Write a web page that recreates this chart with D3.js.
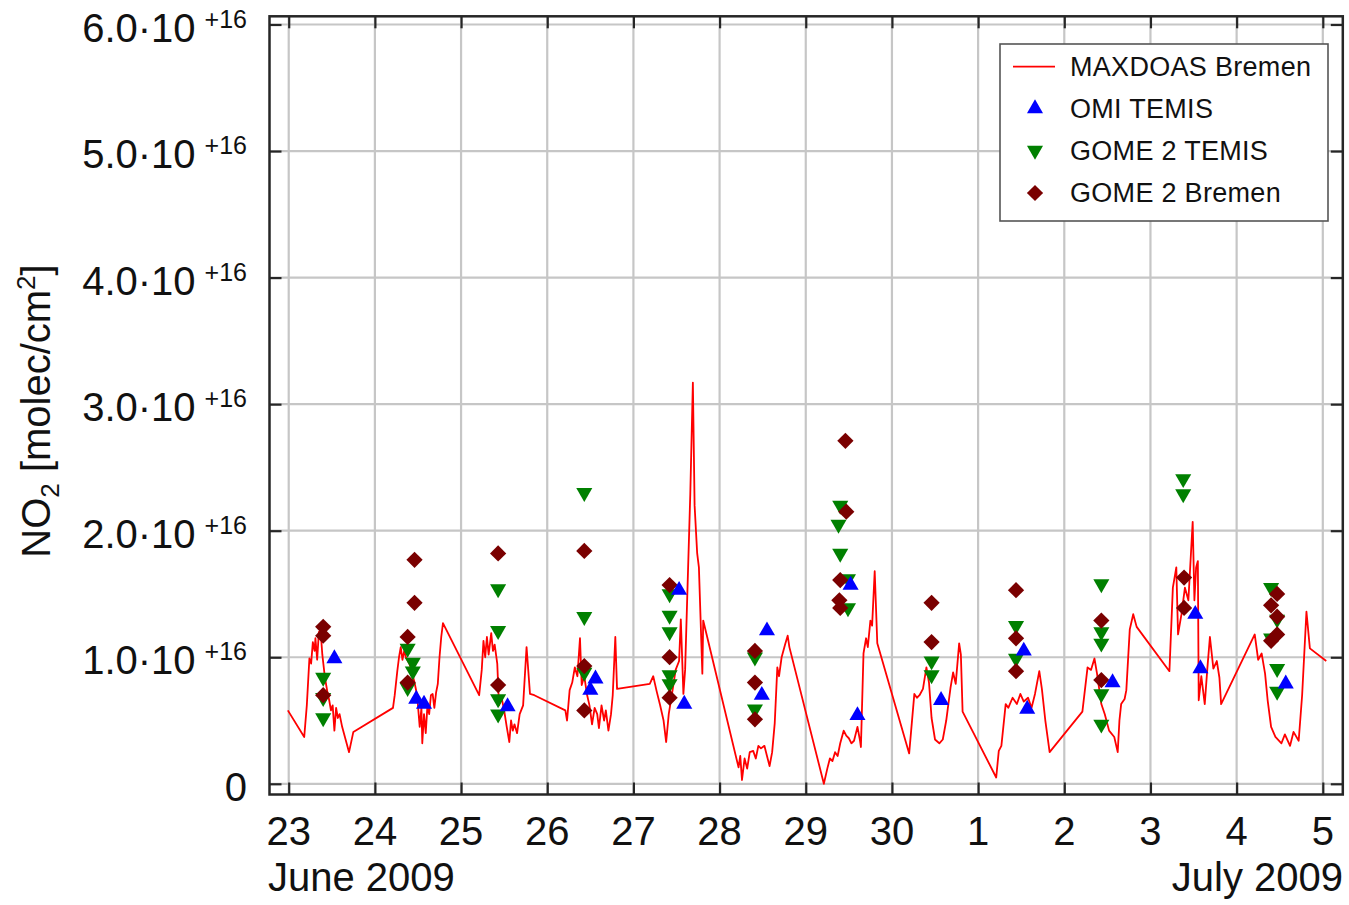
<!DOCTYPE html>
<html>
<head>
<meta charset="utf-8">
<script src="https://cdn.jsdelivr.net/npm/d3@7"></script>
<style>
  html, body { margin: 0; padding: 0; background: #fff; }
  svg { display: block; font-family: "Liberation Sans", Arial, Helvetica, sans-serif; }
</style>
</head>
<body>
<svg id="chart" width="1349" height="905"></svg>
<script>
// Tropospheric NO2 columns over Bremen, 23 June - 5 July 2009.
// Time is given as day count from 31 May 2009 (31 = 1 July), values in 1e16 molec/cm².

const maxdoasDay = [
  22.99, 23.18, 23.21, 23.24, 23.26, 23.28, 23.30, 23.31, 23.33, 23.35, 23.37, 23.39, 23.42, 23.45, 23.47, 23.49,
  23.51, 23.53, 23.55, 23.57, 23.59, 23.62, 23.66, 23.70, 23.75,
  24.21, 24.23, 24.26, 24.28, 24.30, 24.32, 24.34, 24.36, 24.40, 24.43, 24.46, 24.49, 24.52, 24.54, 24.55, 24.57,
  24.59, 24.61, 24.63, 24.65, 24.67, 24.69, 24.71, 24.73, 24.75, 24.77, 24.79,
  25.21, 25.24, 25.26, 25.28, 25.30, 25.32, 25.35, 25.37, 25.39, 25.42, 25.44, 25.47, 25.50, 25.53, 25.56, 25.58,
  25.60, 25.62, 25.65, 25.68, 25.72, 25.76, 25.80, 25.85,
  26.21, 26.23, 26.26, 26.29, 26.32, 26.35, 26.38, 26.40, 26.43, 26.46, 26.49, 26.52, 26.55, 26.58, 26.60, 26.63,
  26.66, 26.68, 26.71, 26.74, 26.76, 26.79, 26.81,
  27.19, 27.23, 27.27, 27.31, 27.35, 27.38, 27.41, 27.45, 27.49, 27.53, 27.55, 27.58, 27.60, 27.63, 27.66, 27.69,
  27.71, 27.74, 27.76, 27.80, 27.81,
  28.22, 28.24, 28.26, 28.29, 28.32, 28.35, 28.39, 28.42, 28.45, 28.48, 28.52, 28.55, 28.58, 28.61, 28.64, 28.67,
  28.69, 28.72, 28.76, 28.79, 28.81,
  29.21, 29.25, 29.28, 29.31, 29.34, 29.37, 29.40, 29.44, 29.47, 29.50, 29.53, 29.56, 29.60, 29.63, 29.64, 29.67,
  29.70, 29.72, 29.75, 29.77, 29.80, 29.83,
  30.20, 30.26, 30.29, 30.32, 30.36, 30.40, 30.43, 30.46, 30.50, 30.55, 30.59, 30.63, 30.68, 30.71, 30.74, 30.78,
  30.80, 30.82,
  31.21, 31.24, 31.27, 31.32, 31.35, 31.40, 31.45, 31.49, 31.53, 31.58, 31.62, 31.66, 31.71, 31.74, 31.78, 31.83,
  32.21, 32.27, 32.31, 32.35, 32.38, 32.43, 32.47, 32.52, 32.58, 32.62, 32.64, 32.66, 32.70, 32.72, 32.76, 32.80,
  32.84,
  33.22, 33.26, 33.30, 33.32, 33.36, 33.40, 33.44, 33.49, 33.51, 33.53, 33.55, 33.56, 33.59, 33.63, 33.66, 33.69,
  33.73, 33.77, 33.80, 33.82,
  34.21, 34.25, 34.29, 34.33, 34.36, 34.40, 34.45, 34.52, 34.56, 34.62, 34.66, 34.72, 34.76, 34.81, 34.85, 35.04
];
const maxdoasNO2 = [
  0.58, 0.37, 0.62, 0.99, 0.95, 1.12, 1.05, 1.15, 0.98, 1.20, 1.21, 1.02, 0.84, 0.72, 0.66, 0.58,
  0.62, 0.42, 0.60, 0.52, 0.55, 0.45, 0.35, 0.25, 0.41,
  0.60, 0.70, 0.89, 1.00, 1.08, 0.98, 1.05, 1.00, 0.95, 0.88, 0.80, 0.70, 0.45, 0.60, 0.32, 0.55,
  0.40, 0.62, 0.55, 0.70, 0.71, 0.60, 0.72, 0.79, 1.00, 1.16, 1.27,
  0.70, 0.90, 1.13, 1.00, 1.16, 1.02, 1.19, 1.05, 1.10, 0.95, 0.62, 0.68, 0.58, 0.45, 0.33, 0.50,
  0.42, 0.47, 0.40, 0.55, 0.62, 1.08, 0.71, 0.70,
  0.58, 0.50, 0.74, 0.80, 0.92, 0.85, 1.15, 0.78, 0.85, 0.71, 0.62, 0.47, 0.60, 0.55, 0.44, 0.62,
  0.50, 0.58, 0.42, 0.55, 0.70, 1.16, 0.75,
  0.79, 0.85, 0.73, 0.62, 0.50, 0.33, 0.55, 0.72, 0.90, 0.97, 1.30, 0.71, 0.90, 1.60, 2.29, 3.17,
  2.20, 1.82, 1.71, 0.87, 1.29,
  0.13, 0.22, 0.03, 0.20, 0.12, 0.25, 0.26, 0.20, 0.30, 0.28, 0.30, 0.22, 0.14, 0.25, 0.48, 0.92,
  0.85, 1.00, 1.10, 1.17, 1.08,
  0.00, 0.12, 0.20, 0.18, 0.25, 0.22, 0.32, 0.42, 0.38, 0.36, 0.32, 0.34, 0.45, 0.34, 0.29, 1.03,
  1.15, 1.08, 1.29, 1.25, 1.68, 1.11,
  0.24, 0.71, 0.68, 0.70, 0.75, 0.92, 0.80, 0.52, 0.35, 0.32, 0.35, 0.50, 0.76, 0.88, 0.79, 1.11,
  1.02, 0.57,
  0.05, 0.26, 0.30, 0.63, 0.60, 0.68, 0.63, 0.71, 0.65, 0.68, 0.60, 0.71, 0.89, 0.75, 0.50, 0.25,
  0.57, 0.92, 0.90, 0.99, 0.87, 0.63, 0.55, 0.42, 0.37, 0.25, 0.50, 0.63, 0.67, 0.74, 1.22, 1.34,
  1.24,
  0.89, 1.55, 1.71, 1.18, 1.34, 1.55, 1.45, 2.07, 1.45, 1.71, 1.76, 0.66, 0.85, 0.63, 0.91, 1.16,
  0.91, 0.97, 0.84, 0.63,
  1.18, 0.98, 1.03, 0.87, 0.66, 0.45, 0.37, 0.32, 0.39, 0.30, 0.41, 0.34, 0.70, 1.36, 1.07, 0.97
];

const omiDay = [23.53, 24.48, 24.57, 25.54, 26.50, 26.56, 27.53, 27.59, 28.49, 28.55, 29.52, 29.60, 30.57, 31.53, 31.57, 32.56, 33.52, 33.58, 34.57];
const omiNO2 = [0.99, 0.67, 0.63, 0.61, 0.74, 0.83, 1.53, 0.63, 0.70, 1.21, 1.57, 0.54, 0.66, 1.05, 0.59, 0.80, 1.34, 0.91, 0.79];

const gomeTemisDay = [
  23.40, 23.40, 23.40, 24.38, 24.44, 24.44, 24.38, 25.43, 25.43, 25.43, 25.43, 26.43, 26.43, 26.43,
  27.42, 27.42, 27.42, 27.42, 27.42, 28.41, 28.41, 29.40, 29.38, 29.40, 29.49, 29.49, 30.46, 30.46,
  31.44, 31.44, 32.43, 32.43, 32.43, 32.43, 32.43, 33.38, 33.38, 34.40, 34.40, 34.47, 34.47, 34.47
];
const gomeTemisNO2 = [
  0.84, 0.68, 0.52, 1.07, 0.96, 0.89, 0.76, 1.54, 1.21, 0.67, 0.55, 2.30, 1.32, 0.88,
  1.50, 1.33, 1.20, 0.86, 0.79, 1.00, 0.59, 2.20, 2.05, 1.82, 1.62, 1.39, 0.97, 0.86,
  1.25, 0.99, 1.58, 1.20, 1.11, 0.71, 0.47, 2.41, 2.29, 1.55, 1.15, 1.30, 0.91, 0.73
];

const gomeBremenDay = [
  23.40, 23.40, 23.40, 24.38, 24.38, 24.46, 24.46, 25.43, 25.43, 26.43, 26.43, 26.43, 27.42, 27.42, 27.42,
  28.41, 28.41, 28.41, 29.46, 29.47, 29.40, 29.39, 29.40, 30.46, 30.46, 31.44, 31.44, 31.44, 32.43, 32.43,
  33.39, 33.39, 34.47, 34.40, 34.47, 34.47, 34.40
];
const gomeBremenNO2 = [
  1.24, 1.17, 0.70, 1.16, 0.80, 1.43, 1.77, 1.82, 0.78, 1.84, 0.93, 0.58, 1.57, 1.00, 0.68,
  1.05, 0.80, 0.51, 2.71, 2.15, 1.61, 1.45, 1.39, 1.43, 1.12, 1.53, 1.15, 0.89, 1.29, 0.82,
  1.63, 1.39, 1.50, 1.41, 1.32, 1.18, 1.13
];

const xTickDays = [23, 24, 25, 26, 27, 28, 29, 30, 31, 32, 33, 34, 35];
const yTickValues = [0, 1, 2, 3, 4, 5, 6];
const yTickLabels = ["0", "1.0·10", "2.0·10", "3.0·10", "4.0·10", "5.0·10", "6.0·10"];
const yExponent = "+16";
const monthLabels = ["June 2009", "July 2009"];
const seriesNames = ["MAXDOAS Bremen", "OMI TEMIS", "GOME 2 TEMIS", "GOME 2 Bremen"];

// ---- layout ----
const frame = { left: 269.5, right: 1342.8, top: 16.3, bottom: 794.5 };
const baseDate = Date.UTC(2009, 4, 31);
const toDate = d => new Date(baseDate + d * 864e5);

const x = d3.scaleUtc()
  .domain([toDate(22.777), toDate(35.232)])
  .range([frame.left, frame.right]);
const y = d3.scaleLinear()
  .domain([-0.0846, 6.0648])
  .range([frame.bottom, frame.top]);

const svg = d3.select("#chart");
const gridColor = "#c6c6c6";
const axisColor = "#262626";

// grid
const grid = svg.append("g");
grid.selectAll("line.gx").data(xTickDays).join("line")
  .attr("x1", d => x(toDate(d))).attr("x2", d => x(toDate(d)))
  .attr("y1", frame.top).attr("y2", frame.bottom)
  .attr("stroke", gridColor).attr("stroke-width", 2.2);
grid.selectAll("line.gy").data(yTickValues).join("line")
  .attr("x1", frame.left).attr("x2", frame.right)
  .attr("y1", d => y(d)).attr("y2", d => y(d))
  .attr("stroke", gridColor).attr("stroke-width", 2.2);

// axes (inward ticks on all four sides)
const tickLen = 12;
function styleAxis(g) {
  g.select(".domain").remove();
  g.selectAll(".tick line").attr("stroke", axisColor).attr("stroke-width", 2.2);
  g.selectAll(".tick text").remove();
}
svg.append("g").attr("transform", `translate(0,${frame.bottom})`)
  .call(d3.axisBottom(x).tickValues(xTickDays.map(toDate)).tickSize(-tickLen)).call(styleAxis);
svg.append("g").attr("transform", `translate(0,${frame.top})`)
  .call(d3.axisTop(x).tickValues(xTickDays.map(toDate)).tickSize(-tickLen)).call(styleAxis);
svg.append("g").attr("transform", `translate(${frame.left},0)`)
  .call(d3.axisLeft(y).tickValues(yTickValues).tickSize(-tickLen)).call(styleAxis);
svg.append("g").attr("transform", `translate(${frame.right},0)`)
  .call(d3.axisRight(y).tickValues(yTickValues).tickSize(-tickLen)).call(styleAxis);

// clip for data
svg.append("clipPath").attr("id", "plotClip").append("rect")
  .attr("x", frame.left).attr("y", frame.top)
  .attr("width", frame.right - frame.left).attr("height", frame.bottom - frame.top);
const plot = svg.append("g").attr("clip-path", "url(#plotClip)");

// MAXDOAS line
const lineData = maxdoasDay.map((d, i) => [d, maxdoasNO2[i]]);
plot.append("path")
  .datum(lineData)
  .attr("fill", "none")
  .attr("stroke", "#ff0000")
  .attr("stroke-width", 1.8)
  .attr("stroke-linejoin", "round")
  .attr("d", d3.line().x(d => x(toDate(d[0]))).y(d => y(d[1])));

// marker shapes
const triSize = 112;
const upTri = d3.symbol().type(d3.symbolTriangle).size(triSize)();
const diamond = d3.symbol().type(d3.symbolSquare).size(132)();
const colors = { omi: "#0000ff", gomeTemis: "#008000", gomeBremen: "#7a0000" };

function drawMarkers(days, vals, path, rot, color) {
  plot.append("g").selectAll("path").data(days.map((d, i) => [d, vals[i]])).join("path")
    .attr("d", path)
    .attr("fill", color)
    .attr("transform", d => `translate(${x(toDate(d[0]))},${y(d[1])}) rotate(${rot})`);
}
drawMarkers(gomeTemisDay, gomeTemisNO2, upTri, 180, colors.gomeTemis);
drawMarkers(gomeBremenDay, gomeBremenNO2, diamond, 45, colors.gomeBremen);
drawMarkers(omiDay, omiNO2, upTri, 0, colors.omi);

// frame
svg.append("rect")
  .attr("x", frame.left).attr("y", frame.top)
  .attr("width", frame.right - frame.left).attr("height", frame.bottom - frame.top)
  .attr("fill", "none").attr("stroke", axisColor).attr("stroke-width", 2.5);

// y tick labels with exponent
const yLabels = svg.append("g").attr("font-size", 40).attr("fill", "#111");
yTickValues.forEach((v, i) => {
  const t = yLabels.append("text")
    .attr("x", 247).attr("y", y(v) + 17)
    .attr("text-anchor", "end");
  t.append("tspan").text(yTickLabels[i]);
  if (v !== 0) {
    t.append("tspan").attr("dx", 9).attr("dy", -14).attr("font-size", 25).text(yExponent);
  }
});

// x tick labels
svg.append("g").attr("font-size", 40).attr("fill", "#111")
  .selectAll("text").data(xTickDays).join("text")
  .attr("x", d => x(toDate(d))).attr("y", 845)
  .attr("text-anchor", "middle")
  .text(d => d3.utcFormat("%-d")(toDate(d)));

svg.append("text").attr("x", 268).attr("y", 891).attr("font-size", 40).attr("fill", "#111")
  .text(monthLabels[0]);
svg.append("text").attr("x", 1343).attr("y", 891).attr("font-size", 40).attr("fill", "#111")
  .attr("text-anchor", "end").text(monthLabels[1]);

// y axis title
const yTitle = svg.append("text")
  .attr("transform", "translate(50,411) rotate(-90)")
  .attr("text-anchor", "middle").attr("font-size", 40).attr("fill", "#111");
yTitle.append("tspan").text("NO");
yTitle.append("tspan").attr("font-size", 26).attr("dy", 9).text("2");
yTitle.append("tspan").attr("dy", -9).text(" [molec/cm");
yTitle.append("tspan").attr("font-size", 26).attr("dy", -15).text("2");
yTitle.append("tspan").attr("dy", 15).text("]");

// legend
const legend = svg.append("g");
legend.append("rect")
  .attr("x", 1000).attr("y", 44).attr("width", 328).attr("height", 177)
  .attr("fill", "#fff").attr("stroke", "#555").attr("stroke-width", 1.6);
const rowY = [66.7, 108.5, 150.5, 193];
legend.append("line")
  .attr("x1", 1013).attr("x2", 1055).attr("y1", rowY[0]).attr("y2", rowY[0])
  .attr("stroke", "#ff0000").attr("stroke-width", 1.7);
legend.append("path").attr("d", upTri).attr("fill", colors.omi)
  .attr("transform", `translate(1035,${rowY[1]})`);
legend.append("path").attr("d", upTri).attr("fill", colors.gomeTemis)
  .attr("transform", `translate(1035,${rowY[2]}) rotate(180)`);
legend.append("path").attr("d", diamond).attr("fill", colors.gomeBremen)
  .attr("transform", `translate(1035,${rowY[3]}) rotate(45)`);
legend.selectAll("text").data(seriesNames).join("text")
  .attr("x", 1070).attr("y", (d, i) => rowY[i] + 9)
  .attr("font-size", 27).attr("letter-spacing", 0.3).attr("fill", "#111")
  .text(d => d);
</script>
</body>
</html>
